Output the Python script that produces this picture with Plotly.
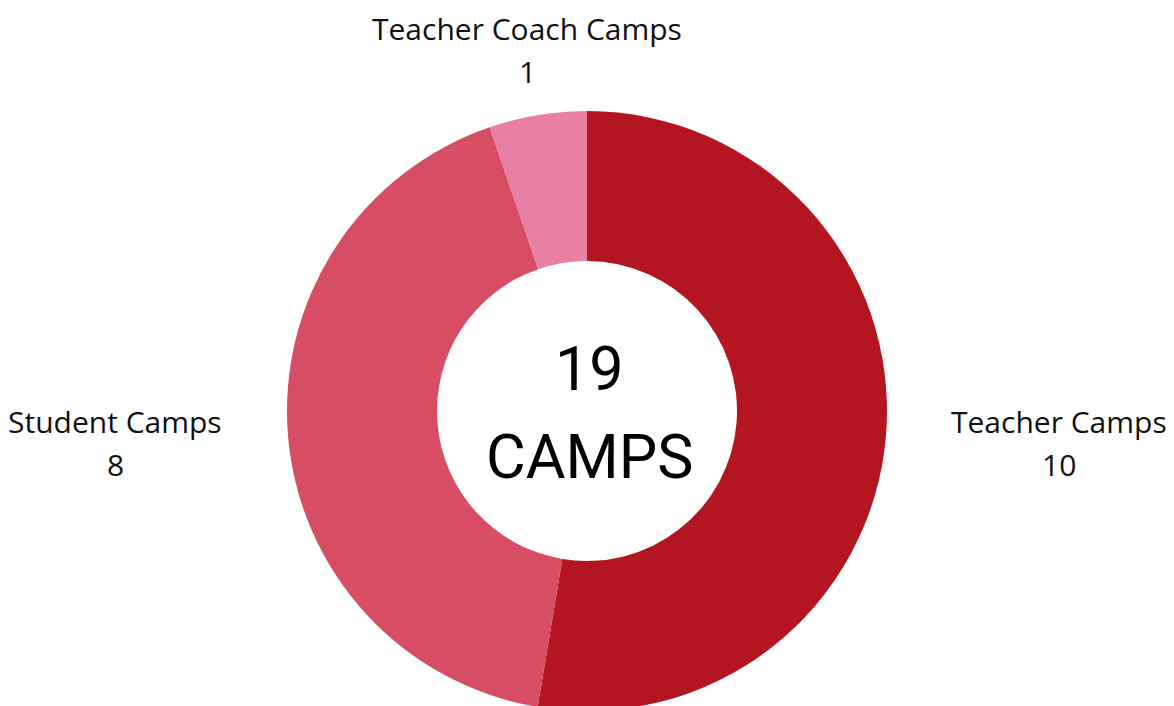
import plotly.graph_objects as go

labels = ["Teacher Camps", "Student Camps", "Teacher Coach Camps"]
values = [10, 8, 1]
colors = ["#B31620", "#D74D64", "#E97FA4"]
total_label = "19"
center_word = "CAMPS"

W, H = 1174, 720  # page viewport is 706 tall; figure slightly taller so the ring is clipped at the bottom

fig = go.Figure(go.Pie(
    labels=labels,
    values=values,
    hole=0.5,
    sort=False,
    direction="clockwise",
    rotation=0,
    marker=dict(colors=colors, line=dict(width=0)),
    textinfo="none",
    hoverinfo="label+value",
    showlegend=False,
    domain=dict(x=[0, 1], y=[(H - 711) / H, (H - 111) / H]),
))

label_font = dict(family="Open Sans, sans-serif", size=30, color="#111111")
# (x center, y of name line, y of value line) in pixels from top-left
label_pos = {
    "Teacher Camps": (1059, 421, 464),
    "Student Camps": (115, 421, 464),
    "Teacher Coach Camps": (527, 29, 72),
}
annotations = []
for lab, val in zip(labels, values):
    x, y1, y2 = label_pos[lab]
    for txt, yy in ((lab, y1), (str(val), y2)):
        annotations.append(dict(
            x=x / W, y=1 - yy / H, xref="paper", yref="paper",
            text=txt, showarrow=False,
            font=label_font, align="center",
            xanchor="center", yanchor="middle",
        ))

center_font = dict(family="Roboto, sans-serif", size=61, color="#000000")
annotations.append(dict(x=590 / W, y=1 - 369 / H, xref="paper", yref="paper",
                        text=total_label, showarrow=False, font=center_font,
                        xanchor="center", yanchor="middle"))
annotations.append(dict(x=590 / W, y=1 - 457 / H, xref="paper", yref="paper",
                        text=center_word, showarrow=False, font=center_font,
                        xanchor="center", yanchor="middle"))

fig.update_layout(
    width=W, height=H,
    margin=dict(l=0, r=0, t=0, b=0),
    paper_bgcolor="white",
    plot_bgcolor="white",
    annotations=annotations,
)

fig.write_html(
    "out.html",
    config={"displayModeBar": False},
    post_script=(
        "document.body.style.margin='0px';"
        "document.body.style.overflow='hidden';"
        "document.documentElement.style.overflow='hidden';"
    ),
)
